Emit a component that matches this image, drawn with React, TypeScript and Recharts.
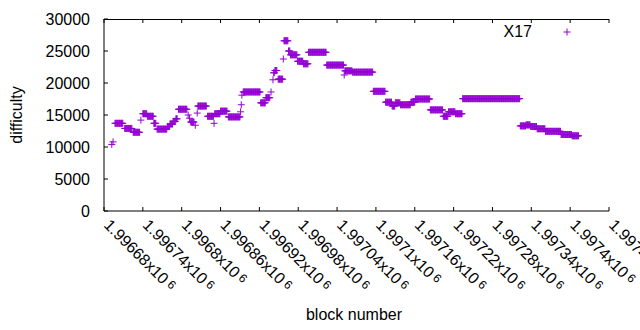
import React from "react";
import { ScatterChart, Scatter, XAxis, YAxis } from "recharts";

const COLOR = "#9400d3";
const FONT = "'Liberation Sans', Arial, sans-serif";
const PLOT_H = 192;

// runs of blocks with the same difficulty (single points have start == end)
const runStart = [
  1996692, 1996694, 1996697, 1996712, 1996725, 1996737, 1996740, 1996747, 1996757, 1996762,
  1996778, 1996782, 1996787, 1996791, 1996795, 1996810, 1996812, 1996814, 1996821, 1996824,
  1996825, 1996840, 1996850, 1996851, 1996860, 1996872, 1996891, 1996892, 1996893, 1996895,
  1996922, 1996930, 1996938, 1996941, 1996942, 1996944, 1996949, 1996957, 1996958, 1996965,
  1996968, 1996979, 1996988, 1996996, 1997024, 1997051, 1997052, 1997064, 1997096, 1997115,
  1997125, 1997130, 1997138, 1997154, 1997161, 1997184, 1997204, 1997212, 1997223, 1997234,
  1997323, 1997332, 1997339, 1997349, 1997362, 1997386, 1997403,
];
const runEnd = [
  1996692, 1996694, 1996709, 1996723, 1996735, 1996737, 1996746, 1996756, 1996760, 1996777,
  1996781, 1996786, 1996790, 1996793, 1996808, 1996810, 1996812, 1996819, 1996821, 1996824,
  1996838, 1996849, 1996850, 1996859, 1996870, 1996890, 1996891, 1996892, 1996893, 1996921,
  1996929, 1996936, 1996938, 1996941, 1996943, 1996947, 1996956, 1996957, 1996964, 1996967,
  1996978, 1996987, 1996995, 1997023, 1997050, 1997051, 1997063, 1997095, 1997114, 1997124,
  1997129, 1997137, 1997153, 1997160, 1997183, 1997203, 1997211, 1997222, 1997233, 1997322,
  1997331, 1997338, 1997348, 1997361, 1997385, 1997402, 1997413,
];
const runValue = [
  10400, 10800, 13700, 12900, 12300, 14200, 15200, 14800, 13700, 12800,
  13200, 13600, 14000, 14400, 15900, 15000, 14500, 13900, 13400, 15300,
  16400, 14800, 13700, 15200, 15600, 14700, 15500, 16600, 18100, 18600,
  16900, 17700, 18600, 20500, 21600, 21950, 20600, 23750, 26600, 25000,
  24400, 23400, 23000, 24800, 22800, 21250, 21900, 21700, 18700, 17000,
  16400, 16900, 16600, 17000, 17500, 15800, 14800, 15500, 15200, 17550,
  13300, 13450, 13200, 12850, 12450, 11950, 11750,
];

const xTicks = [
  1996680, 1996740, 1996800, 1996860, 1996920, 1996980, 1997040,
  1997100, 1997160, 1997220, 1997280, 1997340, 1997400, 1997460,
];
const yTicks = [0, 5000, 10000, 15000, 20000, 25000, 30000];

// one point per block
const data: { block: number; difficulty: number }[] = [];
runStart.forEach((s, i) => {
  for (let b = s; b <= runEnd[i]; b++) data.push({ block: b, difficulty: runValue[i] });
});

const Plus = (p: any) => (
  <path
    d={`M${p.cx - 3.5},${p.cy}h7M${p.cx},${p.cy - 3.5}v7`}
    stroke={COLOR}
    strokeWidth={1}
    fill="none"
  />
);

const mantissa = (v: number) => Number((v / 1e6).toPrecision(6)).toString();

// bottom tick: inward mark, rotated label, and the mirrored mark on the top border
const BottomTick = (p: any) => (
  <g>
    <line x1={p.x} y1={p.y} x2={p.x} y2={p.y - 4} stroke="#000" />
    <line x1={p.x} y1={p.y - PLOT_H} x2={p.x} y2={p.y - PLOT_H + 4} stroke="#000" />
    <text
      transform={`translate(${p.x - 1},${p.y + 15}) rotate(45)`}
      fontSize={16}
      fontFamily={FONT}
      fill="#000"
    >
      {mantissa(p.payload.value)}x10
      <tspan fontSize={12} dx={3} dy={-3}>6</tspan>
    </text>
  </g>
);

const LeftTick = (p: any) => (
  <g>
    <line x1={p.x} y1={p.y} x2={p.x + 4} y2={p.y} stroke="#000" />
    <text x={90} y={p.y + 6} textAnchor="end" fontSize={16} fontFamily={FONT} fill="#000">
      {p.payload.value}
    </text>
  </g>
);

const RightTick = (p: any) => <line x1={p.x} y1={p.y} x2={p.x - 4} y2={p.y} stroke="#000" />;

export default function App() {
  return (
    <div style={{ position: "absolute", left: 0, top: 0, width: 640, height: 330 }}>
      <ScatterChart width={640} height={330} margin={{ top: 19, right: 31, bottom: 0, left: 0 }}>
        <XAxis
          dataKey="block"
          type="number"
          domain={[1996680, 1997460]}
          ticks={xTicks}
          interval={0}
          height={119}
          tickSize={0}
          tickMargin={0}
          tick={<BottomTick />}
          axisLine={{ stroke: "#000" }}
          tickLine={false}
          label={(lp: any) => (
            <text x={354} y={320} textAnchor="middle" fontSize={16} fontFamily={FONT} fill="#000">
              block number
            </text>
          )}
        />
        <YAxis
          dataKey="difficulty"
          type="number"
          domain={[0, 30000]}
          ticks={yTicks}
          interval={0}
          width={104}
          tickSize={0}
          tickMargin={0}
          tick={<LeftTick />}
          axisLine={{ stroke: "#000" }}
          tickLine={false}
          label={(lp: any) => (
            <text
              transform="translate(22,115) rotate(-90)"
              textAnchor="middle"
              fontSize={16}
              fontFamily={FONT}
              fill="#000"
            >
              difficulty
            </text>
          )}
        />
        <YAxis
          yAxisId="right"
          dataKey="difficulty"
          orientation="right"
          type="number"
          domain={[0, 30000]}
          ticks={yTicks}
          interval={0}
          width={0}
          tickSize={0}
          tick={<RightTick />}
          axisLine={{ stroke: "#000" }}
          tickLine={false}
        />
        <Scatter
          data={data}
          yAxisId="right"
          shape={() => <g />}
          isAnimationActive={false}
        />
        <Scatter data={data} fill={COLOR} shape={<Plus />} isAnimationActive={false} />
      </ScatterChart>
      {/* top border of the plot frame */}
      <div
        style={{
          position: "absolute",
          left: 104,
          top: 19,
          width: 505,
          height: 0,
          borderTop: "1px solid #000",
          pointerEvents: "none",
        }}
      />
      <div
        style={{
          position: "absolute",
          left: 492,
          top: 23,
          display: "flex",
          alignItems: "center",
          fontFamily: FONT,
          fontSize: 16,
          lineHeight: "18px",
        }}
      >
        <span style={{ width: 40, textAlign: "right" }}>X17</span>
        <svg width={50} height={18}>
          <path d="M31.5,9h7M35,5.5v7" stroke={COLOR} strokeWidth={1} />
        </svg>
      </div>
    </div>
  );
}
